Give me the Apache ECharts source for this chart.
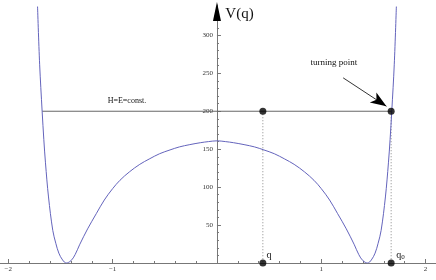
<!DOCTYPE html>
<html><head><meta charset="utf-8">
<script src="https://cdn.jsdelivr.net/npm/echarts@6/dist/echarts.min.js"></script>
<style>html,body{margin:0;padding:0;background:#fff}#c{width:436px;height:280px}</style>
</head><body><div id="c"></div>
<script>
// Potential curve V(q)
const curveQ = [-1.72,-1.70,-1.676,-1.66,-1.644,-1.615,-1.574,-1.545,-1.516,-1.48,-1.445,-1.40,-1.36,-1.317,-1.24,-1.157,-1.08,-1.0,-0.93,-0.84,-0.74,-0.65,-0.55,-0.45,-0.36,-0.26,-0.16,-0.08,0,
  0.08,0.16,0.26,0.36,0.45,0.55,0.65,0.74,0.84,0.93,1.0,1.08,1.157,1.24,1.317,1.36,1.40,1.445,1.48,1.516,1.545,1.574,1.615,1.644,1.66,1.676,1.70,1.72];
const curveV = [338,262,200,163,132,87,43,26,13,4,0,3,11,24,45,65,83,98,109,120,130,137,144,149,153,156,158.5,160,161,
  160,158.5,156,153,149,144,137,130,120,109,98,83,65,45,24,11,3,0,4,13,26,43,87,132,163,200,262,338];
// Energy level line
const energyQ = [-1.676, 1.676];
const energyV = [200, 200];
// Marked points (q, V)
const dotQ = [0.44, 0.44, 1.67, 1.67];
const dotV = [200, 0, 200, 0];
// Tick values
const xMajor = [-2,-1,0,1,2];
const xLabels = [-2,-1,1,2];
const xMinor = [-1.8,-1.6,-1.4,-1.2,-0.8,-0.6,-0.4,-0.2,0.2,0.4,0.6,0.8,1.2,1.4,1.6,1.8];
const yMajor = [50,100,150,200,250,300];
const yMinor = [10,20,30,40,60,70,80,90,110,120,130,140,160,170,180,190,210,220,230,240,260,270,280,290,310,320,330];

const FONT = 'Liberation Serif';
const AX = '#777';
const chart = echarts.init(document.getElementById('c'), null, {renderer:'canvas'});

function xAxisCfg(main) {
  return {
    type:'value', min:-2.08, max:2.1, position:'bottom',
    axisLine:{show:main, onZero:false, lineStyle:{color:AX, width:1}},
    axisTick:{show:true, inside:true, length: main?4:2, lineStyle:{color:AX}, customValues: main?xMajor:xMinor},
    axisLabel:{show:main, customValues:xLabels, margin:3, fontFamily:FONT, fontSize:7, color:'#333',
      formatter: v => (v<0?'\u2212':'') + Math.abs(v)},
    splitLine:{show:false}
  };
}
function yAxisCfg(main, off) {
  return {
    type:'value', min:0, max:340, position:'left', offset:off,
    axisLine:{show:main, onZero:false, lineStyle:{color:AX, width:1}},
    axisTick:{show:true, inside:true, length: main?4:2, lineStyle:{color:AX}, customValues: main?yMajor:yMinor},
    axisLabel:{show:main, customValues:yMajor, margin:4, fontFamily:FONT, fontSize:7, color:'#333'},
    splitLine:{show:false}
  };
}

const curve = curveQ.map((q,i)=>[q,curveV[i]]);
const baseOption = {
  animation:false,
  grid:{left:0,right:0,top:5,bottom:17, containLabel:false, outerBoundsMode:'none'},
  xAxis:[xAxisCfg(true), xAxisCfg(false)],
  yAxis:[yAxisCfg(true,0), yAxisCfg(false,0)],
  series:[
    {type:'line', data:energyQ.map((q,i)=>[q,energyV[i]]), symbol:'none', lineStyle:{color:'#666', width:1}, z:2},
    {type:'line', data:[[dotQ[0],dotV[0]],[dotQ[1],dotV[1]]], symbol:'none', lineStyle:{color:'#888', width:1, type:[1,2]}, z:2},
    {type:'line', data:[[dotQ[2],dotV[2]],[dotQ[3],dotV[3]]], symbol:'none', lineStyle:{color:'#888', width:1, type:[1,2]}, z:2},
    {type:'line', data:curve, symbol:'none', smooth:0.35, lineStyle:{color:'#6464bc', width:1}, z:3},
    {type:'scatter', data:dotQ.map((q,i)=>[q,dotV[i]]), symbol:'circle', symbolSize:7, itemStyle:{color:'#000'}, z:5, clip:false,
      markLine:{silent:true, symbol:['none','arrow'], symbolSize:[9,16], lineStyle:{color:'#000', width:0.8, type:'solid'}, label:{show:false},
        data:[[{coord:[1.21,244]},{coord:[1.625,206.5]}]]}}
  ]
};
chart.setOption(baseOption);

function px(q,v){ return chart.convertToPixel({gridIndex:0},[q,v]); }
const zeroX = px(0,0)[0];
chart.setOption({yAxis:[{offset:-zeroX},{offset:-zeroX}]});

const tH = px(-0.863, 213.5), tT = px(1.12, 263.6), tq = px(0.475, 10.5), tq0 = px(1.72, 10.5), tV = px(0.08, 328);
const top0 = px(0, 340);
chart.setOption({graphic:[
  {type:'polygon', shape:{points:[[top0[0], top0[1]-3],[top0[0]-4, top0[1]+16],[top0[0]+4, top0[1]+16]]}, style:{fill:'#000'}, z:10},
  {type:'text', x:tH[0], y:tH[1], style:{text:'H=E=const.', font:'8px "'+FONT+'"', fill:'#111', align:'center', verticalAlign:'middle'}},
  {type:'text', x:tT[0], y:tT[1], style:{text:'turning point', font:'9px "'+FONT+'"', fill:'#111', align:'center', verticalAlign:'middle'}},
  {type:'text', x:tq[0], y:tq[1], style:{text:'q', font:'10px "'+FONT+'"', fill:'#111', align:'left', verticalAlign:'middle'}},
  {type:'text', x:tq0[0], y:tq0[1], style:{text:'{a|q}{b|0}', rich:{a:{font:'10px "'+FONT+'"', fill:'#111'}, b:{font:'7px "'+FONT+'"', fill:'#111', padding:[5,0,0,0]}}, align:'left', verticalAlign:'middle'}},
  {type:'text', x:tV[0], y:tV[1], style:{text:'V(q)', font:'15px "'+FONT+'"', fill:'#111', align:'left', verticalAlign:'middle'}}
]});
</script></body></html>
